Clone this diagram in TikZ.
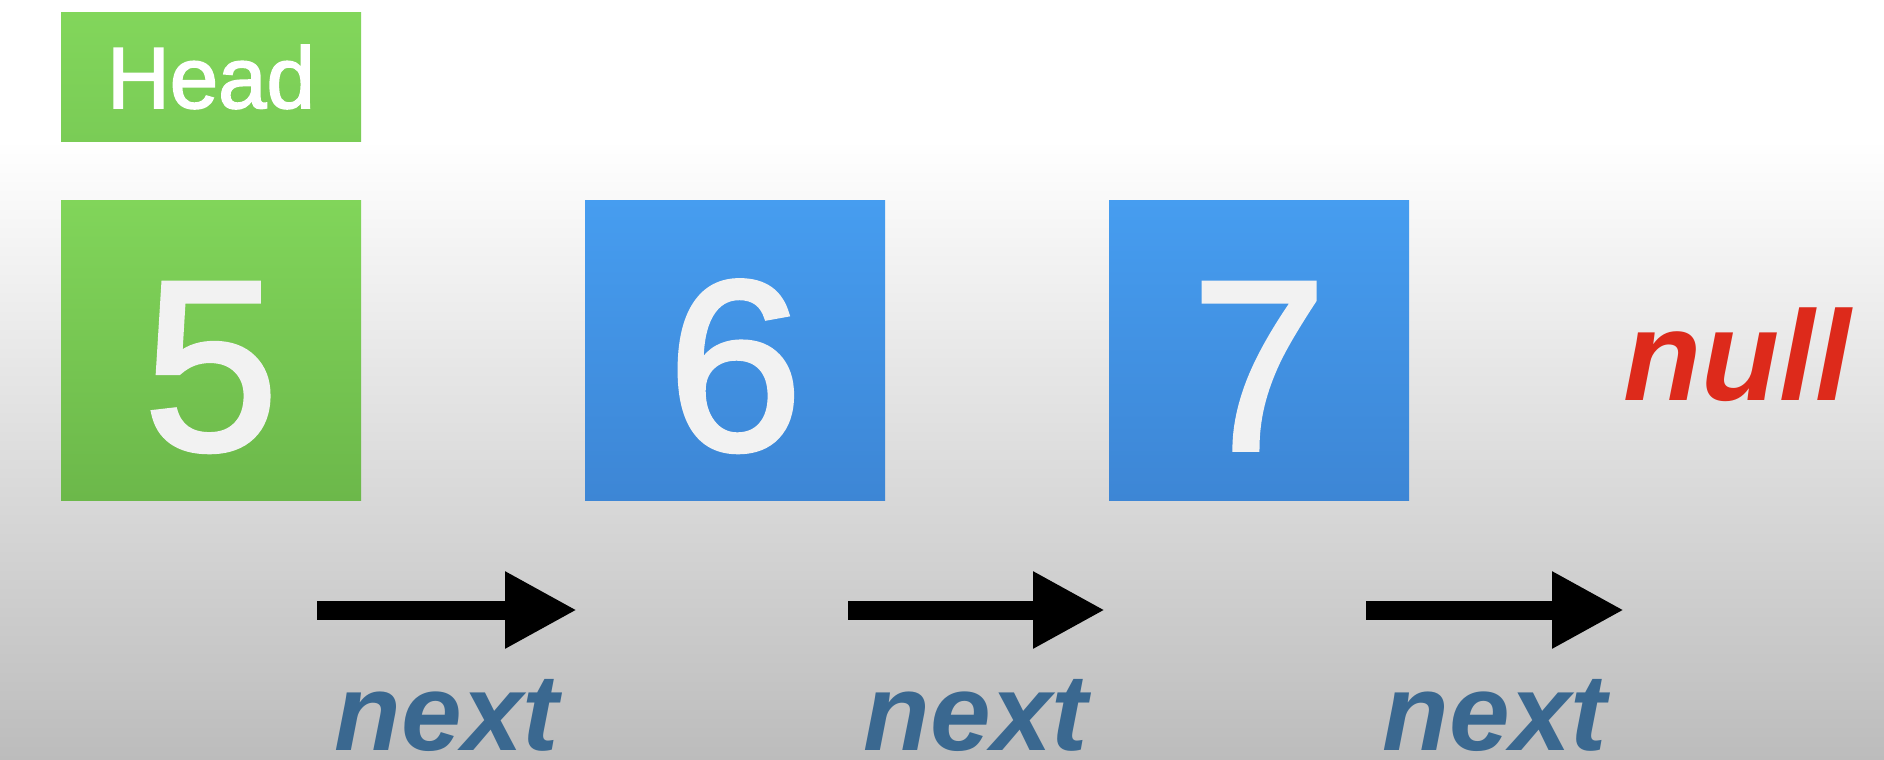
\documentclass[tikz,border=0pt]{standalone}
\usepackage{fontspec}
\setmainfont{Liberation Sans}
\newfontfamily\heavysans[FakeBold=2]{Liberation Sans}
\usetikzlibrary{arrows.meta}
\definecolor{greenT}{RGB}{129,213,90}
\definecolor{greenB}{RGB}{108,184,74}
\definecolor{greenH1}{RGB}{130,214,91}
\definecolor{greenH2}{RGB}{122,204,86}
\definecolor{blueT}{RGB}{70,157,240}
\definecolor{blueB}{RGB}{61,134,213}
\definecolor{bgbottom}{RGB}{188,188,188}
\definecolor{nullred}{RGB}{221,42,27}
\definecolor{nextblue}{RGB}{58,104,144}
\definecolor{digitwhite}{RGB}{242,242,242}
\tikzset{
  headbox/.style={minimum width=300pt, minimum height=128pt, inner sep=0pt,
    top color=greenH1, bottom color=greenH2, text=white,
    font=\heavysans\fontsize{87pt}{90pt}\selectfont},
  valbox/.style={minimum width=300pt, minimum height=300pt, inner sep=0pt,
    text=digitwhite, text height=199pt, text depth=0pt,
    font=\heavysans\fontsize{242pt}{250pt}\selectfont},
  greenbox/.style={valbox, top color=greenT, bottom color=greenB},
  bluebox/.style={valbox, top color=blueT, bottom color=blueB},
  nulltext/.style={text=nullred, inner sep=0pt,
    font=\fontsize{128pt}{130pt}\selectfont\bfseries\itshape},
  nexttext/.style={text=nextblue, inner sep=0pt,
    font=\fontsize{109pt}{112pt}\selectfont\bfseries\itshape},
  ptr/.style={line width=19pt, black, -{Triangle[length=72pt,width=72pt]}}
}
\begin{document}
\begin{tikzpicture}[x=1pt,y=-1pt]
\useasboundingbox (0,0) rectangle (1884,760);
\fill[white] (0,0) rectangle (1884,760);
\shade[top color=white, bottom color=bgbottom] (0,140) rectangle (1884,760);

\node[headbox] (head) at (211,77) {Head};
\node[greenbox] (n5) at (211,350) {5};
\node[bluebox] (n6) at (735,350) {6};
\node[bluebox] (n7) at (1259,350) {7};
\node[nulltext, anchor=base] (null) at (1737,400) {null};

\coordinate (a1s) at (317,610);
\coordinate (a1e) at (577,610);
\coordinate (a2s) at (848,610);
\coordinate (a2e) at (1105,610);
\coordinate (a3s) at (1366,610);
\coordinate (a3e) at (1624,610);
\draw[ptr] (a1s) -- (a1e);
\draw[ptr] (a2s) -- (a2e);
\draw[ptr] (a3s) -- (a3e);

\node[nexttext, anchor=base] (next1) at (447,750) {next};
\node[nexttext, anchor=base] (next2) at (976,750) {next};
\node[nexttext, anchor=base] (next3) at (1495,750) {next};
\end{tikzpicture}
\end{document}
